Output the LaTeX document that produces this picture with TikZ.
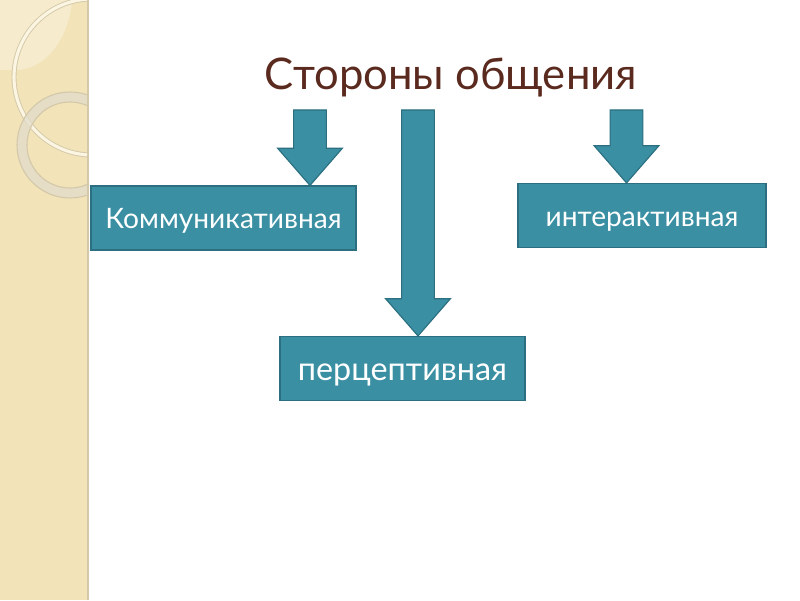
\documentclass[tikz,border=0pt]{standalone}
\usepackage{fontspec}
\setmainfont{Lato}
\usetikzlibrary{positioning, calc}
\definecolor{tealbox}{HTML}{3A8FA3}
\definecolor{tealline}{HTML}{2B6F80}
\definecolor{titlebrown}{HTML}{5B2A1F}
\definecolor{stripbeige}{HTML}{F2E3B8}
\definecolor{stripfaint}{HTML}{F6EBCC}
\definecolor{stripedge}{HTML}{D3C9AA}
\definecolor{ringgrey}{HTML}{E2DCCB}
\definecolor{arccream}{HTML}{FBF5E2}

\begin{document}
\begin{tikzpicture}[
    x=0.025cm, y=0.025cm,
    side/.style={rectangle, draw=tealline, thick, fill=tealbox, text=white,
                 minimum height=1.6cm, inner sep=0pt, text height=17pt, text depth=2pt,
                 font=\fontsize{20}{24}\selectfont},
    blockarrow/.style={draw=tealline, thick, fill=tealbox, line join=miter}
]
\useasboundingbox (0,0) rectangle (800,600);

% left strip
\fill[stripbeige] (0,0) rectangle (88,600);
\begin{scope}
  \clip (0,0) rectangle (88,600);
  \fill[stripfaint] (0,600) -- (72,600) .. controls (70,568) and (50,532) .. (18,530) -- (0,530) -- cycle;
  \draw[stripedge, line width=3.5pt] (92,523) circle (78);
  \draw[arccream, line width=2.2pt] (92,523) circle (78);
  \filldraw[even odd rule, fill=ringgrey, fill opacity=0.75, draw=stripedge, line width=0.8pt] (70,455) circle (53) (70,455) circle (43);
\end{scope}
\draw[stripedge, line width=1.5pt] (88,0) -- (88,600);

% title and boxes
\node (title) [anchor=base, text=titlebrown, font=\fontsize{31}{36}\selectfont] at (451,510) {Стороны общения};
\node (komm)  [side, minimum width=6.625cm] at (223.5,382) {Коммуникативная};
\node (inter) [side, minimum width=6.2cm]   at (642,384.5) {интерактивная};
\node (perc)  [side, minimum width=6.125cm, font=\fontsize{23}{27}\selectfont, text height=19pt, text depth=2.5pt] at (402.5,231.5) {перцептивная};

\coordinate (tailA) at (310,490);
\coordinate (tailB) at (418,490);
\coordinate (tailC) at (626.5,490);

\foreach \t/\b in {tailA/komm, tailB/perc, tailC/inter}
  \draw[blockarrow] let \p1=(\t), \p2=(\b.north) in
    (\x1-0.41cm,\y1) -- (\x1+0.41cm,\y1) -- (\x1+0.41cm,\y2+0.93cm)
    -- (\x1+0.81cm,\y2+0.93cm) -- (\x1,\y2) -- (\x1-0.81cm,\y2+0.93cm)
    -- (\x1-0.41cm,\y2+0.93cm) -- cycle;
\end{tikzpicture}
\end{document}
